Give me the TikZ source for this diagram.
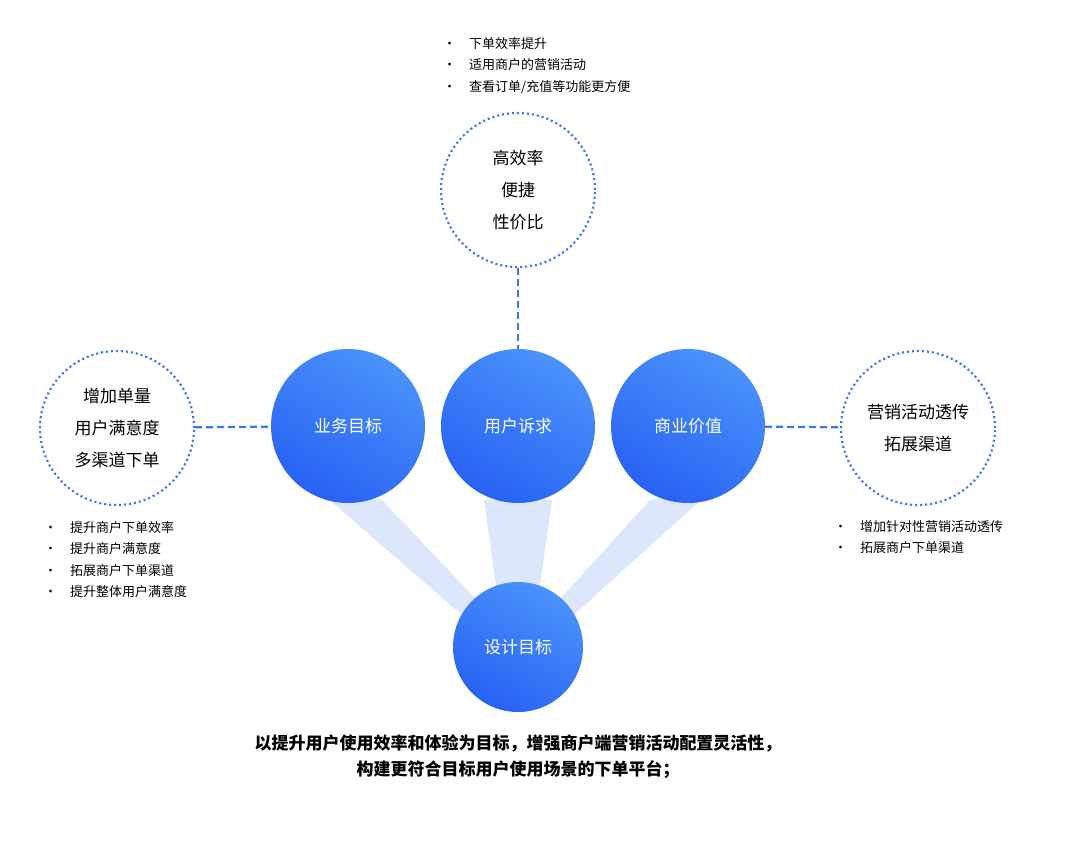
\documentclass[tikz,border=0pt]{standalone}
\usepackage{fontspec}
\setmainfont{Noto Sans CJK SC}
\usetikzlibrary{positioning}
\definecolor{bluelt}{HTML}{4A92FB}
\definecolor{bluedk}{HTML}{2862F2}
\definecolor{beam}{HTML}{DCE7FC}
\definecolor{dotc}{HTML}{3E74F0}
\tikzset{
  goal/.style={circle, minimum size=154pt, inner sep=0pt, text=white, font=\fontsize{17}{20}\selectfont,
    shading=axis, top color=bluelt, bottom color=bluedk, shading angle=-30},
  ring/.style={circle, minimum size=154pt, inner sep=0pt, draw=dotc, line width=2.2pt,
    dash pattern=on 2pt off 3pt, fill=white, align=center, font=\fontsize{17}{32}\selectfont},
  link/.style={dotc, line width=2.2pt, dash pattern=on 7pt off 4pt},
  pts/.style={align=left, anchor=north west, font=\fontsize{13}{21.5}\selectfont, inner sep=0pt}
}
\begin{document}
\begin{tikzpicture}[x=1pt,y=-1pt]
\useasboundingbox (0,0) rectangle (1080,841);
% beams behind the circles
\fill[beam] (318,490) -- (382,500) -- (488,612) -- (470,622) -- cycle;
\fill[beam] (484,500) -- (552,500) -- (540,586) -- (496,586) -- cycle;
\fill[beam] (650,500) -- (712,490) -- (566,622) -- (548,612) -- cycle;
% main circles
\node[goal] (biz) at (348,426) {业务目标};
\node[goal] (user) at (518,426) {用户诉求};
\node[goal] (value) at (688,426) {商业价值};
\node[goal, minimum size=130pt] (design) at (518,647) {设计目标};
% dotted rings
\node[ring] (top) at (518,190) {高效率\\便捷\\性价比};
\node[ring] (left) at (117,428) {增加单量\\用户满意度\\多渠道下单};
\node[ring] (right) at (918,428) {营销活动透传\\拓展渠道};
\draw[link] (top) -- (user);
\draw[link] (left) -- (biz);
\draw[link] (value) -- (right);
% bullet lists
\node[pts] (toplist) at (443,37) {•\quad 下单效率提升\\•\quad 适用商户的营销活动\\•\quad 查看订单/充值等功能更方便};
\node[pts] (leftlist) at (44,521) {•\quad 提升商户下单效率\\•\quad 提升商户满意度\\•\quad 拓展商户下单渠道\\•\quad 提升整体用户满意度};
\node[pts] (rightlist) at (834,520) {•\quad 增加针对性营销活动透传\\•\quad 拓展商户下单渠道};
% summary
\node[align=center, font=\fontsize{17}{26}\selectfont\bfseries] (summary) at (518,757)
  {以提升用户使用效率和体验为目标，增强商户端营销活动配置灵活性，\\构建更符合目标用户使用场景的下单平台；};
\end{tikzpicture}
\end{document}
